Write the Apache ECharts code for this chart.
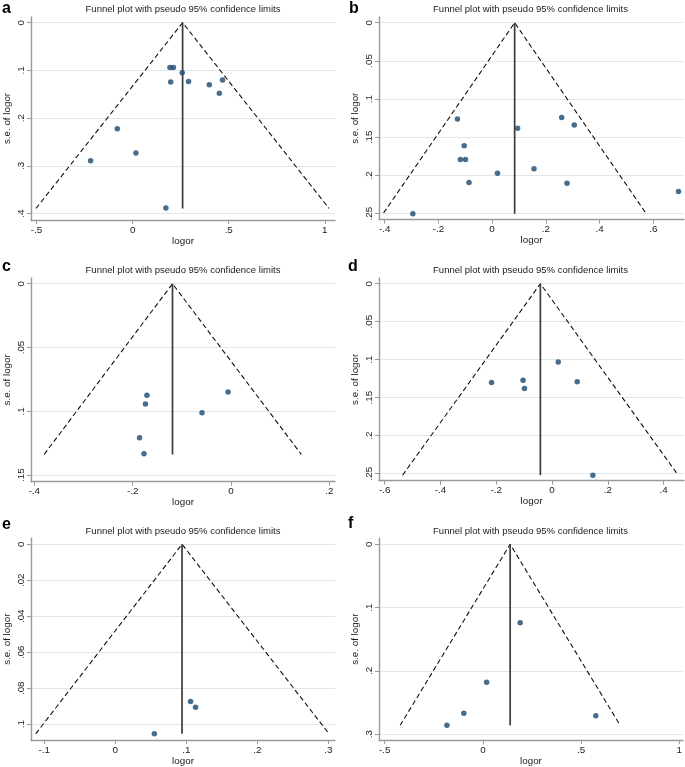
<!DOCTYPE html>
<html><head><meta charset="utf-8">
<script src="https://cdn.jsdelivr.net/npm/echarts@6/dist/echarts.min.js"></script>
<style>html,body{margin:0;padding:0;background:#fff}#c{width:685px;height:767px}</style>
</head><body><div id="c"></div>
<script>
// ---------- Data ----------
// Panel a
const aLogor = [0.194, 0.212, 0.258, 0.198, 0.291, 0.399, 0.468, 0.451, -0.080, 0.017, -0.219, 0.173];
const aSe    = [0.094, 0.094, 0.105, 0.124, 0.123, 0.130, 0.120, 0.148, 0.222, 0.273, 0.289, 0.388];
const aFunnelX  = [-0.503, 0.26, 1.022];
const aFunnelSe = [0.389, 0, 0.389];
const aPooledX  = [0.26, 0.26];
const aPooledSe = [0, 0.389];
const aXTicks = [-0.5, 0, 0.5, 1];
const aYTicks = [0, 0.1, 0.2, 0.3, 0.4];
// Panel b
const bLogor = [-0.129, -0.104, -0.118, -0.099, -0.086, -0.295, 0.095, 0.020, 0.156, 0.259, 0.306, 0.279, 0.694];
const bSe    = [0.126, 0.161, 0.179, 0.179, 0.209, 0.250, 0.138, 0.197, 0.191, 0.124, 0.134, 0.210, 0.221];
const bFunnelX  = [-0.404, 0.084, 0.572];
const bFunnelSe = [0.249, 0, 0.249];
const bPooledX  = [0.084, 0.084];
const bPooledSe = [0, 0.25];
const bXTicks = [-0.4, -0.2, 0, 0.2, 0.4, 0.6];
const bYTicks = [0, 0.05, 0.1, 0.15, 0.2, 0.25];
// Panel c
const cLogor = [-0.171, -0.174, -0.006, -0.059, -0.186, -0.177];
const cSe    = [0.0875, 0.0943, 0.0849, 0.1011, 0.1207, 0.1333];
const cFunnelX  = [-0.380, -0.119, 0.143];
const cFunnelSe = [0.1338, 0, 0.1338];
const cPooledX  = [-0.119, -0.119];
const cPooledSe = [0, 0.1338];
const cXTicks = [-0.4, -0.2, 0, 0.2];
const cYTicks = [0, 0.05, 0.1, 0.15];
// Panel d
const dLogor = [-0.217, -0.104, -0.099, 0.022, 0.090, 0.146];
const dSe    = [0.130, 0.127, 0.138, 0.103, 0.129, 0.252];
const dFunnelX  = [-0.536, -0.042, 0.452];
const dFunnelSe = [0.252, 0, 0.252];
const dPooledX  = [-0.042, -0.042];
const dPooledSe = [0, 0.252];
const dXTicks = [-0.6, -0.4, -0.2, 0, 0.2, 0.4];
const dYTicks = [0, 0.05, 0.1, 0.15, 0.2, 0.25];
// Panel e
const eLogor = [0.106, 0.113, 0.055];
const eSe    = [0.0873, 0.0906, 0.1053];
const eFunnelX  = [-0.112, 0.094, 0.301];
const eFunnelSe = [0.1053, 0, 0.1053];
const ePooledX  = [0.094, 0.094];
const ePooledSe = [0, 0.1053];
const eXTicks = [-0.1, 0, 0.1, 0.2, 0.3];
const eYTicks = [0, 0.02, 0.04, 0.06, 0.08, 0.1];
// Panel f
const fLogor = [0.190, 0.019, -0.097, -0.183, 0.575];
const fSe    = [0.124, 0.218, 0.267, 0.286, 0.271];
const fFunnelX  = [-0.421, 0.139, 0.699];
const fFunnelSe = [0.286, 0, 0.286];
const fPooledX  = [0.139, 0.139];
const fPooledSe = [0, 0.286];
const fXTicks = [-0.5, 0, 0.5, 1];
const fYTicks = [0, 0.1, 0.2, 0.3];

const panelLetters = ['a', 'b', 'c', 'd', 'e', 'f'];
const plotTitle = 'Funnel plot with pseudo 95% confidence limits';
const xName = 'logor';
const yName = 's.e. of logor';

// ---------- Layout ----------
const panels = [
  {logor: aLogor, se: aSe, fx: aFunnelX, fse: aFunnelSe, px: aPooledX, pse: aPooledSe, xt: aXTicks, yt: aYTicks},
  {logor: bLogor, se: bSe, fx: bFunnelX, fse: bFunnelSe, px: bPooledX, pse: bPooledSe, xt: bXTicks, yt: bYTicks},
  {logor: cLogor, se: cSe, fx: cFunnelX, fse: cFunnelSe, px: cPooledX, pse: cPooledSe, xt: cXTicks, yt: cYTicks},
  {logor: dLogor, se: dSe, fx: dFunnelX, fse: dFunnelSe, px: dPooledX, pse: dPooledSe, xt: dXTicks, yt: dYTicks},
  {logor: eLogor, se: eSe, fx: eFunnelX, fse: eFunnelSe, px: ePooledX, pse: ePooledSe, xt: eXTicks, yt: eYTicks},
  {logor: fLogor, se: fSe, fx: fFunnelX, fse: fFunnelSe, px: fPooledX, pse: fPooledSe, xt: fXTicks, yt: fYTicks}
];
const layout = [
  {left: 31,  top: 17,    width: 304, height: 203,   xr: [-0.5291, 1.0531], yr: [-0.0119, 0.4132], titleY: 9.3,   letter: [2, 8.5],   titleX: 183},
  {left: 379, top: 17,    width: 305, height: 202.5, xr: [-0.4211, 0.7145], yr: [-0.0075, 0.2576], titleY: 9.3,   letter: [349, 9],   titleX: 530.5},
  {left: 31,  top: 278,   width: 304, height: 203.7, xr: [-0.4068, 0.2115], yr: [-0.0045, 0.1552], titleY: 270,   letter: [2, 267],   titleX: 183},
  {left: 379, top: 278,   width: 305, height: 202.7, xr: [-0.6204, 0.4728], yr: [-0.0075, 0.2592], titleY: 270,   letter: [348, 267], titleX: 530.5},
  {left: 31,  top: 538.3, width: 304, height: 203.7, xr: [-0.1187, 0.3094], yr: [-0.0033, 0.1088], titleY: 531.7, letter: [2, 525],   titleX: 183},
  {left: 379, top: 538.3, width: 305, height: 202.7, xr: [-0.5288, 1.0189], yr: [-0.0094, 0.3094], titleY: 531.7, letter: [348, 524], titleX: 530.5}
];

const FONT = '"Liberation Sans", Arial, sans-serif';
const TXT = '#1a1a1a';
const AXIS = '#9a9a9a';
const GRIDC = '#dce8ec';
const MARK = '#1a476f';
const fmt = v => String(Math.round(v * 1000) / 1000).replace(/^(-?)0\./, '$1.');

const grid = [], xAxis = [], yAxis = [], series = [], graphic = [];
panels.forEach((p, i) => {
  const L = layout[i];
  grid.push({left: L.left, top: L.top, width: L.width, height: L.height, containLabel: false});
  xAxis.push({
    type: 'value', gridIndex: i, min: L.xr[0], max: L.xr[1],
    name: xName, nameLocation: 'middle', nameGap: 13.5,
    nameTextStyle: {fontFamily: FONT, fontSize: 9.8, color: TXT},
    axisLine: {show: true, onZero: false, lineStyle: {color: AXIS, width: 1.4}},
    axisTick: {show: true, length: 4, customValues: p.xt, lineStyle: {color: AXIS, width: 1}},
    axisLabel: {customValues: p.xt, formatter: fmt, margin: 5, fontFamily: FONT, fontSize: 9.8, color: TXT},
    splitLine: {show: false}
  });
  yAxis.push({
    type: 'value', gridIndex: i, min: L.yr[0], max: L.yr[1], inverse: true,
    name: yName, nameLocation: 'middle', nameGap: 19,
    nameTextStyle: {fontFamily: FONT, fontSize: 9.8, color: TXT},
    axisLine: {show: true, onZero: false, lineStyle: {color: AXIS, width: 1.4}},
    axisTick: {show: true, length: 4, customValues: p.yt, lineStyle: {color: AXIS, width: 1}},
    axisLabel: {customValues: p.yt, formatter: fmt, rotate: 90, margin: 5, fontFamily: FONT, fontSize: 9.8, color: TXT},
    splitLine: {show: true, lineStyle: {color: GRIDC, width: 1}}
  });
  series.push({
    type: 'line', xAxisIndex: i, yAxisIndex: i, silent: true, showSymbol: false, symbol: 'none',
    data: p.fx.map((x, k) => [x, p.fse[k]]),
    lineStyle: {color: '#111', width: 1.1, type: [5, 3]}, z: 2
  });
  series.push({
    type: 'line', xAxisIndex: i, yAxisIndex: i, silent: true, showSymbol: false, symbol: 'none',
    data: p.px.map((x, k) => [x, p.pse[k]]),
    lineStyle: {color: '#3c3c3c', width: 1.7}, z: 2
  });
  series.push({
    type: 'scatter', xAxisIndex: i, yAxisIndex: i, symbolSize: 5.5,
    data: p.logor.map((x, k) => [x, p.se[k]]),
    itemStyle: {color: MARK}, z: 3
  });
  graphic.push({
    type: 'text', x: L.titleX, y: L.titleY,
    style: {text: plotTitle, fill: TXT, font: '9.5px ' + FONT, textAlign: 'center', textVerticalAlign: 'middle'}
  });
  graphic.push({
    type: 'text', x: L.letter[0], y: L.letter[1],
    style: {text: panelLetters[i], fill: '#000', font: 'bold 16px ' + FONT, textAlign: 'left', textVerticalAlign: 'middle'}
  });
});

const chart = echarts.init(document.getElementById('c'), null, {renderer: 'canvas'});
chart.setOption({
  backgroundColor: '#fff', animation: false,
  grid, xAxis, yAxis, series, graphic
});
</script>
</body></html>
